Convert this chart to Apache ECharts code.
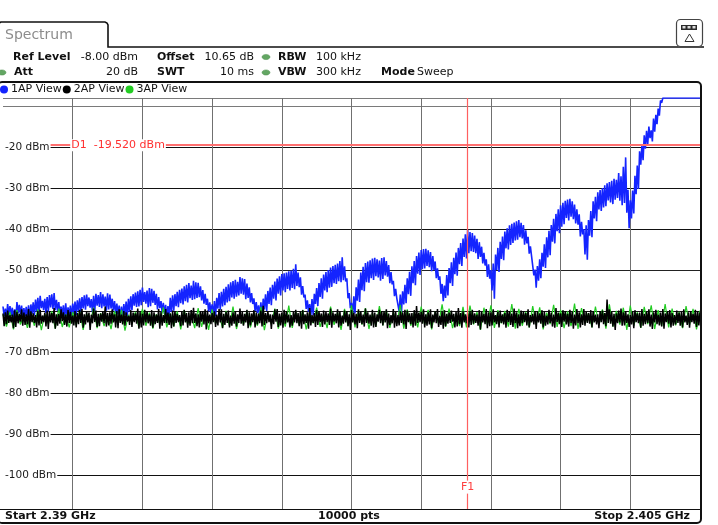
<!DOCTYPE html>
<html>
<head>
<meta charset="utf-8">
<script src="https://cdn.jsdelivr.net/npm/echarts@6/dist/echarts.min.js"></script>
<style>
html,body{margin:0;padding:0;background:#fff;}
#chart{width:718px;height:525px;}
</style>
</head>
<body>
<div id="chart"></div>
<script>
// Sweep settings
const START_MHZ = 2390;
const STOP_MHZ = 2405;
const SWEEP_POINTS = 10000;
const REF_LEVEL = -8;          // dBm, top of the diagram
const BOTTOM_LEVEL = -110;     // dBm, lower end of the value axis
const DIV_DB = 10;
const DIV_MHZ = 1.5;

// Display line and frequency line
const D1_LEVEL = -19.52;
const F1_MHZ = 2400;

// Level labels printed inside the diagram
const LEVEL_TICKS = [-20, -30, -40, -50, -70, -80, -90, -100];

// Trace 1 (1AP View), dBm, one sample every 0.025 MHz from start
// (samples alternate between the upper and lower edge of the detector band)
const TRACE1_STEP = 0.025;
const trace1 = [
-58.9,-61.3,-59.4,-61.6,-58.3,-60.9,-58.8,-61.2,-59.2,-62.1,-59.6,-61.9,-57.8,-60.6,-58.5,-60.8,-58.7,-61.5,-59.3,-61.4,
-59.0,-61.8,-58.6,-62.0,-58.4,-60.7,-57.9,-61.1,-57.2,-60.1,-56.8,-60.4,-56.3,-59.3,-57.5,-59.8,-57.0,-60.5,-56.6,-60.2,
-56.1,-59.1,-55.9,-59.5,-55.6,-59.8,-57.3,-60.0,-57.8,-60.6,-58.9,-60.9,-58.6,-61.7,-58.1,-61.5,-59.1,-61.2,-58.7,-61.8,
-58.2,-60.7,-57.7,-61.0,-57.4,-60.0,-56.9,-60.3,-56.6,-59.4,-56.2,-59.7,-56.0,-58.8,-56.7,-59.2,-57.1,-60.3,-56.3,-60.0,
-55.8,-58.7,-56.1,-59.0,-55.4,-59.3,-55.9,-58.9,-56.5,-59.9,-55.7,-59.6,-56.0,-59.4,-57.0,-59.9,-57.6,-60.5,-58.2,-60.8,
-58.7,-61.9,-58.9,-61.6,-58.3,-61.0,-57.7,-61.2,-57.0,-60.2,-56.4,-59.8,-55.9,-58.7,-55.5,-59.0,-55.2,-58.9,-54.8,-58.6,
-54.3,-57.8,-55.4,-58.2,-55.0,-59.1,-54.4,-58.8,-54.6,-58.0,-55.1,-58.5,-55.8,-59.6,-56.6,-59.3,-57.6,-60.3,-58.0,-60.7,
-58.5,-61.7,-58.8,-61.4,-56.8,-60.2,-56.2,-59.9,-55.9,-58.8,-55.3,-59.1,-54.8,-58.1,-54.5,-58.4,-54.0,-57.6,-53.6,-57.9,
-53.2,-56.9,-53.8,-57.3,-52.6,-57.1,-53.0,-56.8,-53.1,-56.6,-54.0,-57.4,-54.9,-58.2,-55.8,-58.5,-57.0,-60.1,-57.9,-60.6,
-58.4,-61.0,-57.6,-61.3,-56.8,-59.4,-55.6,-59.7,-55.3,-58.9,-54.6,-58.6,-54.1,-57.9,-53.5,-57.6,-53.0,-56.7,-52.7,-57.0,
-52.4,-56.5,-52.9,-56.2,-51.7,-55.8,-52.0,-56.0,-52.2,-57.1,-53.3,-56.8,-54.2,-57.9,-55.6,-58.3,-56.9,-60.0,-57.8,-60.5,
-58.6,-61.2,-57.9,-61.5,-57.0,-59.6,-55.9,-60.0,-55.1,-58.3,-54.3,-58.6,-53.6,-57.0,-52.8,-57.4,-52.1,-55.8,-51.5,-56.2,
-51.0,-55.0,-50.8,-55.4,-50.6,-54.6,-50.3,-55.0,-50.1,-54.4,-49.7,-54.7,-48.6,-53.9,-50.6,-54.2,-51.8,-56.0,-53.9,-56.7,
-56.0,-59.5,-57.4,-60.2,-58.3,-61.1,-57.1,-61.0,-55.8,-58.3,-54.4,-58.8,-53.2,-56.6,-52.0,-57.0,-51.1,-55.0,-50.5,-55.4,
-50.0,-54.3,-49.4,-54.1,-49.0,-53.2,-48.7,-53.4,-48.4,-52.7,-47.8,-53.0,-46.9,-52.5,-49.1,-52.8,-52.0,-56.9,-55.6,-59.3,
-58.0,-60.9,-56.4,-60.6,-54.2,-57.5,-52.3,-57.8,-50.6,-54.9,-49.2,-55.2,-48.3,-53.0,-47.9,-53.1,-47.6,-52.0,-47.2,-52.4,
-47.0,-51.5,-47.4,-51.8,-47.7,-52.6,-47.1,-52.2,-46.9,-51.3,-47.8,-51.6,-48.8,-53.2,-50.5,-53.5,-52.6,-56.4,-54.6,-56.9,
-56.8,-60.1,-56.0,-60.4,-55.2,-58.4,-53.6,-58.1,-52.0,-55.9,-50.4,-56.3,-49.1,-53.2,-47.8,-53.7,-46.6,-50.9,-45.7,-51.2,
-45.1,-49.8,-44.9,-49.6,-44.8,-49.0,-45.2,-49.3,-45.6,-50.3,-46.6,-50.0,-47.9,-52.0,-49.6,-52.4,-51.5,-55.8,-53.4,-57.6,
-53.8,-56.8,-51.2,-56.2,-49.5,-53.2,-48.1,-53.9,-47.0,-51.0,-45.7,-51.4,-44.6,-48.6,-43.4,-49.0,-42.3,-46.8,-41.3,-47.2,
-40.2,-45.9,-40.7,-45.4,-41.0,-45.6,-41.6,-45.9,-42.4,-47.3,-43.2,-46.8,-44.3,-48.4,-45.8,-48.9,-47.4,-51.7,-48.6,-52.1,
-50.0,-55.0,-48.4,-57.0,-46.2,-50.0,-44.6,-50.5,-43.1,-47.3,-41.8,-47.6,-40.6,-44.7,-39.8,-45.0,-39.1,-43.9,-38.7,-43.4,
-38.4,-42.8,-38.1,-42.6,-37.8,-42.0,-38.5,-42.3,-39.0,-43.8,-40.3,-43.5,-41.9,-46.0,-44.2,-46.6,-46.8,-51.3,-49.9,-54.3,
-49.0,-52.6,-47.4,-52.0,-45.8,-49.2,-43.7,-49.5,-42.0,-46.9,-40.4,-46.4,-39.0,-43.1,-37.5,-43.5,-36.3,-40.5,-35.2,-41.0,
-34.2,-39.4,-33.6,-38.8,-33.1,-37.3,-32.8,-37.9,-32.6,-37.0,-33.2,-37.6,-34.0,-38.6,-35.2,-38.9,-36.4,-41.8,-38.2,-41.3,
-40.0,-46.2,-39.1,-47.5,-37.8,-41.6,-35.6,-42.0,-33.2,-37.4,-32.1,-38.1,-31.0,-35.2,-30.5,-35.6,-30.0,-34.7,-29.3,-34.4,
-28.8,-33.0,-28.5,-33.5,-28.2,-33.9,-27.7,-32.8,-28.0,-32.4,-26.3,-33.1,-27.1,-34.2,-24.8,-33.6,-22.5,-36.0,-30.4,-39.8,
-33.0,-37.4,-30.6,-36.2,-27.0,-31.5,-24.5,-30.2,-21.0,-24.3,-19.6,-23.2,-17.1,-20.4,-16.0,-19.3,-15.0,-17.8,-15.9,-18.6,
-13.0,-16.2,-12.1,-14.4,-10.6,-12.3,-8.6,-9.2,-8.0,-8.0,-8.0,-8.0,-8.0,-8.0,-8.0,-8.0,-8.0,-8.0,-8.0,-8.0,
-8.0,-8.0,-8.0,-8.0,-8.0,-8.0,-8.0,-8.0,-8.0,-8.0,-8.0,-8.0,-8.0,-8.0,-8.0,-8.0,-8.0,-8.0,-8.0,-8.0,
-8.0
];

// Trace 2 (2AP View), dBm, one sample every 0.025 MHz from start
const TRACE2_STEP = 0.025;
const trace2 = [
-60.6,-63.7,-60.3,-63.2,-59.9,-62.9,-61.0,-62.8,-60.9,-64.2,-59.8,-63.9,-60.2,-63.0,-60.7,-62.6,-59.6,-63.6,-60.4,-63.4,
-60.8,-63.3,-59.5,-64.1,-60.1,-62.7,-60.6,-62.9,-61.0,-64.0,-60.0,-63.5,-59.7,-63.1,-61.1,-62.7,-60.4,-63.8,-59.9,-64.4,
-60.0,-62.8,-60.5,-63.0,-59.3,-64.3,-60.8,-63.6,-60.7,-63.1,-59.6,-62.5,-60.3,-63.4,-60.9,-63.8,-59.8,-62.9,-60.2,-63.1,
-61.1,-63.5,-60.0,-64.0,-60.5,-63.2,-59.7,-62.9,-59.5,-64.1,-60.8,-63.3,-60.2,-62.8,-60.4,-64.6,-60.9,-63.0,-59.4,-62.7,
-59.9,-63.9,-60.7,-63.7,-60.6,-62.6,-60.1,-63.0,-58.9,-63.8,-60.5,-63.5,-60.3,-63.1,-59.6,-62.8,-60.8,-64.0,-60.0,-64.2,
-59.6,-62.9,-60.9,-63.3,-60.0,-63.6,-60.3,-62.6,-61.2,-63.4,-59.8,-63.9,-60.4,-62.7,-60.6,-63.1,-59.4,-64.3,-60.2,-64.0,
-60.7,-63.5,-59.7,-62.8,-60.1,-63.0,-60.8,-63.6,-59.8,-64.1,-60.3,-63.2,-60.9,-62.9,-59.5,-64.3,-60.2,-63.6,-61.0,-62.9,
-59.5,-63.0,-60.4,-63.4,-60.6,-64.2,-59.9,-63.8,-60.0,-62.9,-60.7,-62.7,-61.0,-63.7,-60.1,-63.5,-59.7,-62.8,-60.5,-64.1,
-60.3,-63.6,-59.8,-63.0,-59.2,-62.9,-60.6,-63.7,-60.8,-64.0,-60.0,-62.6,-60.1,-63.3,-59.6,-64.5,-59.9,-63.0,-60.9,-63.2,
-60.5,-62.7,-60.1,-63.9,-60.9,-63.5,-59.5,-62.8,-59.6,-64.2,-60.7,-63.4,-60.2,-62.9,-59.9,-64.0,-61.1,-63.6,-60.3,-63.1,
-60.0,-63.8,-60.8,-62.9,-59.4,-63.1,-60.2,-63.6,-60.7,-62.8,-59.7,-64.2,-60.3,-63.5,-60.6,-62.7,-59.8,-64.0,-60.4,-63.3,
-60.6,-63.0,-59.9,-63.8,-58.7,-63.4,-60.5,-63.0,-60.1,-62.7,-60.8,-64.4,-60.9,-63.2,-59.6,-62.6,-59.5,-63.9,-60.6,-63.5,
-60.4,-64.1,-59.7,-63.1,-60.0,-62.8,-60.9,-64.0,-61.0,-63.6,-60.2,-62.8,-59.7,-63.0,-60.5,-63.7,-60.2,-64.3,-59.8,-63.2,
-60.8,-62.9,-60.3,-64.3,-59.3,-63.5,-61.0,-62.9,-60.5,-63.9,-59.8,-63.4,-60.1,-62.7,-60.6,-63.9,-59.9,-63.3,-60.2,-62.7,
-60.6,-63.4,-59.4,-64.1,-60.3,-62.6,-60.7,-63.0,-59.6,-64.0,-60.1,-63.6,-61.1,-63.1,-59.9,-62.8,-60.0,-63.7,-60.8,-64.6,
-59.8,-62.8,-60.4,-63.3,-60.7,-64.2,-59.6,-62.9,-60.2,-63.2,-60.9,-63.8,-59.4,-62.9,-60.3,-63.1,-60.9,-63.6,-59.7,-64.0,
-60.4,-63.9,-60.8,-62.6,-59.7,-63.0,-60.0,-63.5,-60.1,-62.8,-59.6,-64.2,-60.6,-63.4,-61.0,-63.0,-59.5,-64.1,-60.2,-63.7,
-61.0,-63.5,-60.1,-62.9,-60.3,-63.3,-59.7,-64.4,-59.9,-62.7,-60.6,-63.2,-60.5,-64.0,-59.8,-63.6,-58.8,-62.9,-60.4,-62.7,
-60.2,-63.1,-59.6,-64.0,-60.8,-63.6,-60.3,-63.3,-59.6,-64.2,-60.9,-62.8,-60.0,-63.0,-59.5,-63.9,-61.2,-63.4,-60.1,-64.3,
-59.8,-63.7,-60.7,-63.1,-60.4,-62.9,-59.9,-62.6,-60.7,-64.0,-60.2,-63.8,-59.3,-63.2,-60.5,-64.1,-60.1,-62.8,-60.8,-63.0,
-60.6,-64.0,-60.0,-63.4,-59.7,-63.1,-60.6,-62.9,-60.9,-63.6,-59.8,-64.5,-60.2,-62.8,-60.7,-63.2,-59.5,-64.2,-60.3,-63.7,
-60.3,-63.5,-59.6,-62.8,-61.0,-63.2,-60.2,-64.0,-59.9,-62.9,-60.8,-63.3,-60.5,-64.1,-59.7,-62.7,-60.0,-63.4,-60.6,-63.9,
-59.4,-63.0,-60.3,-64.2,-60.8,-63.7,-59.9,-63.0,-60.1,-62.7,-60.5,-63.5,-59.6,-64.0,-61.0,-62.8,-60.7,-63.3,-60.0,-64.4,
-60.2,-62.8,-60.6,-63.1,-59.8,-64.0,-60.1,-63.6,-61.1,-63.3,-59.7,-62.9,-60.4,-63.8,-60.9,-64.1,-59.3,-62.7,-60.4,-63.2,
-60.6,-63.9,-59.8,-62.6,-60.0,-63.3,-60.7,-63.8,-59.7,-62.9,-60.2,-64.3,-60.9,-63.5,-59.5,-63.0,-60.3,-64.0,-60.8,-63.4,
-59.5,-63.6,-60.2,-62.9,-60.5,-63.1,-59.8,-64.0,-60.1,-62.8,-60.9,-63.3,-60.8,-64.2,-60.0,-62.7,-59.9,-63.2,-60.5,-63.7,
-57.2,-62.9,-59.6,-63.1,-60.2,-63.8,-60.7,-64.6,-60.6,-63.0,-59.9,-62.8,-59.4,-63.6,-60.3,-63.5,-60.0,-62.9,-60.8,-63.9,
-61.0,-63.3,-60.1,-64.2,-59.8,-62.7,-60.6,-63.0,-60.4,-64.1,-59.5,-63.6,-60.7,-63.2,-60.2,-62.9,-59.6,-63.8,-60.9,-64.4,
-60.3,-62.8,-59.7,-63.2,-60.9,-63.5,-60.4,-63.8,-59.5,-64.3,-60.6,-62.7,-60.1,-63.1,-59.8,-64.0,-60.5,-63.6,-61.0,-63.3,
-59.9,-62.9,-60.4,-63.6,-60.2,-64.0,-59.6,-62.8,-61.1,-63.4,-60.3,-64.1,-60.0,-62.7,-60.7,-63.1,-59.7,-63.9,-60.1,-63.5,
-60.4
];

// Trace 3 (3AP View), dBm, one sample every 0.075 MHz from start
const TRACE3_STEP = 0.075;
const trace3 = [
-60.9,-63.8,-60.2,-64.5,-59.8,-63.3,-61.0,-64.1,-60.4,-63.6,
-59.6,-64.7,-60.7,-63.2,-60.1,-64.3,-59.4,-63.9,-60.8,-64.0,
-60.3,-63.5,-59.9,-64.6,-60.6,-63.1,-59.2,-64.2,-60.5,-63.7,
-61.1,-64.4,-60.0,-63.4,-59.7,-64.8,-60.9,-63.0,-60.2,-64.1,
-59.5,-63.6,-60.4,-64.3,-60.8,-63.2,-59.1,-64.0,-60.6,-63.8,
-60.1,-64.5,-59.8,-63.3,-60.7,-64.2,-59.3,-63.9,-60.3,-64.6,
-59.6,-63.1,-60.9,-64.1,-60.0,-63.7,-58.9,-64.4,-60.5,-63.4,
-59.9,-64.0,-60.2,-63.6,-59.0,-64.7,-60.6,-63.2,-59.4,-64.3,
-60.8,-63.8,-58.7,-64.1,-60.1,-63.5,-59.7,-64.5,-60.4,-63.0,
-59.2,-63.9,-60.7,-64.2,-58.9,-63.4,-60.3,-64.6,-59.5,-63.7,
-58.6,-64.0,-60.0,-63.3,-59.3,-64.4,-60.5,-63.8,-58.8,-63.5,
-59.9,-64.1,-60.2,-63.1,-58.5,-64.3,-59.6,-63.6,-60.4,-64.0,
-58.9,-63.4,-59.7,-64.5,-60.1,-63.2,-58.4,-63.9,-59.4,-64.2,
-60.6,-63.7,-59.0,-64.0,-58.7,-63.3,-60.3,-64.6,-59.2,-63.5,
-58.6,-64.1,-59.8,-63.0,-60.0,-63.8,-58.3,-64.3,-59.5,-63.6,
-60.2,-64.0,-58.8,-63.4,-59.1,-64.5,-60.4,-63.2,-58.5,-63.9,
-59.7,-64.2,-60.1,-63.7,-58.2,-64.4,-59.3,-63.1,-60.5,-64.0,
-58.9,-63.5,-59.6,-64.3,-58.4,-63.8,-60.0,-63.3,-59.2,-64.6,
-58.7,-63.6,-60.3,-64.1,-59.0,-63.2,-58.6,-64.4,-59.8,-63.7,
-58.3,-64.0,-59.4,-63.5,-60.2,-64.2,-58.8,-63.4,-59.5,-64.5,
-59.9
];

const FONT = '"DejaVu Sans", Verdana, sans-serif';
const SPAN = STOP_MHZ - START_MHZ;

// samples are placed on the frequency offset from the start frequency
const toPoints = (vals, step) => vals.map((v, i) => [Math.round(i * step * 10000) / 10000, v]);

function fmtGHz(mhz) { return (mhz / 1000).toString() + ' GHz'; }

const chart = echarts.init(document.getElementById('chart'), null, { renderer: 'canvas' });

const txt = (text, x, y, opts = {}) => ({
  type: 'text', z: 120,
  style: {
    text, x, y,
    font: (opts.bold ? 'bold ' : '') + (opts.size || 11) + 'px ' + FONT,
    fill: opts.color || '#111',
    textAlign: opts.align || 'left', align: opts.align || 'left',
    textVerticalAlign: 'middle', verticalAlign: 'middle'
  }
});
const dot = (cx, cy) => ({
  type: 'ellipse', z: 120,
  shape: { cx, cy, rx: 4, ry: 2.6 },
  style: { fill: '#63a663', stroke: '#4d8f4d', lineWidth: 0.5 }
});

const traceLine = (color, width) => ({ width, color, join: 'bevel', cap: 'butt' });

const BLUE = '#1424ff', BLACK = '#000', GREEN = '#22cc22';

const option = {
  animation: false,
  backgroundColor: '#fff',
  textStyle: { fontFamily: FONT },
  legend: {
    data: ['1AP View', '2AP View', '3AP View'],
    left: 0, top: 84, padding: 0, itemGap: 1,
    icon: 'circle', itemWidth: 8, itemHeight: 8,
    textStyle: { fontFamily: FONT, fontSize: 11, color: '#111', padding: [0, 0, 0, -2] },
    selectedMode: false
  },
  grid: { left: 0, right: 18, top: 98, bottom: 9.2, containLabel: false },
  xAxis: {
    type: 'value', min: 0, max: SPAN, interval: DIV_MHZ,
    axisLine: { show: false }, axisTick: { show: false }, axisLabel: { show: false },
    splitLine: { show: true, showMinLine: false, lineStyle: { color: '#707070', width: 1 } }
  },
  yAxis: [
    {
      type: 'value', min: BOTTOM_LEVEL, max: REF_LEVEL, interval: DIV_DB,
      axisLine: { show: false }, axisTick: { show: false }, axisLabel: { show: false },
      splitLine: {
        show: true,
        lineStyle: {
          width: 1,
          color: ['#111', '#111', '#111', '#111', '#111', '#111', '#222', '#111', '#111', '#111', '#7a7a7a', '#7a7a7a']
        }
      }
    },
    {
      type: 'value', min: BOTTOM_LEVEL, max: REF_LEVEL, position: 'left', z: 10,
      axisLine: { show: false }, axisTick: { show: false }, splitLine: { show: false },
      axisLabel: {
        inside: true, margin: 0, customValues: LEVEL_TICKS,
        formatter: v => v + ' dBm',
        fontFamily: FONT, fontSize: 10.5, color: '#1a1a1a',
        backgroundColor: '#fff', padding: [1, 1, 0, 2]
      }
    }
  ],
  series: [
    {
      name: '1AP View', type: 'line', z: 2, symbol: 'none', clip: true,
      data: toPoints(trace1, TRACE1_STEP),
      color: BLUE, lineStyle: traceLine(BLUE, 1.6)
    },
    {
      name: '3AP View', type: 'line', z: 3, symbol: 'none', clip: true,
      data: toPoints(trace3, TRACE3_STEP),
      color: GREEN, lineStyle: traceLine(GREEN, 1.2)
    },
    {
      name: '2AP View', type: 'line', z: 4, symbol: 'none', clip: true,
      data: toPoints(trace2, TRACE2_STEP),
      color: BLACK, lineStyle: traceLine(BLACK, 1.5)
    },
    {
      name: 'markers', type: 'line', z: 10, data: [],
      markLine: {
        silent: true, symbol: ['none', 'none'], animation: false, z: 10,
        label: { show: false },
        data: [
          { yAxis: D1_LEVEL, lineStyle: { color: '#ff7070', width: 2, type: 'solid' } },
          { xAxis: F1_MHZ - START_MHZ, lineStyle: { color: '#ff6060', width: 1.2, type: 'solid' } }
        ]
      },
      markPoint: {
        silent: true, symbol: 'rect', symbolSize: 1, animation: false, z: 11,
        itemStyle: { color: 'rgba(0,0,0,0)' },
        data: [
          {
            coord: [DIV_MHZ, D1_LEVEL],
            label: {
              show: true, position: 'right', distance: 0, offset: [-3, 0],
              formatter: 'D1  ' + D1_LEVEL.toFixed(3) + ' dBm',
              fontFamily: FONT, fontSize: 11, color: '#ff3030',
              backgroundColor: '#fff', padding: [1, 1, 0, 1]
            }
          },
          {
            coord: [F1_MHZ - START_MHZ, -103],
            label: {
              show: true, position: 'inside',
              formatter: 'F1',
              fontFamily: FONT, fontSize: 11, color: '#ff4040',
              backgroundColor: '#fff', padding: [1, 0, 1, 0]
            }
          }
        ]
      }
    }
  ],
  graphic: [
    // tab
    {
      type: 'polyline', z: 110,
      shape: { points: [[-2, 47], [-2, 25], [-1, 23], [1, 22], [105, 22], [107, 23], [108, 25], [108, 47], [704, 47]] },
      style: { fill: null, stroke: '#111', lineWidth: 1.6 }
    },
    txt('Spectrum', 5, 35, { size: 14, color: '#8c8c8c' }),
    // icon, top right
    {
      type: 'rect', z: 110,
      shape: { x: 676.5, y: 19.5, width: 26, height: 27, r: 4 },
      style: { fill: '#fff', stroke: '#444', lineWidth: 1.2 }
    },
    { type: 'rect', z: 111, shape: { x: 681, y: 25, width: 16, height: 5 }, style: { fill: '#2a2a2a' } },
    { type: 'rect', z: 112, shape: { x: 682.5, y: 26, width: 3, height: 2.5 }, style: { fill: '#ddd' } },
    { type: 'rect', z: 112, shape: { x: 687.5, y: 26, width: 3, height: 2.5 }, style: { fill: '#ddd' } },
    { type: 'rect', z: 112, shape: { x: 692.5, y: 26, width: 3, height: 2.5 }, style: { fill: '#ddd' } },
    {
      type: 'polygon', z: 111,
      shape: { points: [[689.5, 34], [685, 41.5], [694, 41.5]] },
      style: { fill: null, stroke: '#333', lineWidth: 1 }
    },
    // setting rows
    txt('Ref Level', 13, 57, { bold: true }),
    txt('-8.00 dBm', 138, 57, { align: 'right' }),
    txt('Offset', 157, 57, { bold: true }),
    txt('10.65 dB', 254, 57, { align: 'right' }),
    dot(266, 57),
    txt('RBW', 278, 57, { bold: true }),
    txt('100 kHz', 316, 57),
    dot(2, 72.5),
    txt('Att', 14, 72.5, { bold: true }),
    txt('20 dB', 138, 72.5, { align: 'right' }),
    txt('SWT', 157, 72.5, { bold: true }),
    txt('10 ms', 254, 72.5, { align: 'right' }),
    dot(266, 72.5),
    txt('VBW', 278, 72.5, { bold: true }),
    txt('300 kHz', 316, 72.5),
    txt('Mode', 381, 72.5, { bold: true }),
    txt('Sweep', 417, 72.5),
    // bottom bar
    {
      type: 'rect', z: 105,
      shape: { x: -2, y: 509, width: 703, height: 14 },
      style: { fill: '#fff' }
    },
    {
      type: 'line', z: 106,
      shape: { x1: -2, y1: 509.5, x2: 701, y2: 509.5 },
      style: { stroke: '#111', lineWidth: 1.2 }
    },
    txt('Start ' + fmtGHz(START_MHZ), 5, 516.5, { bold: true }),
    txt(SWEEP_POINTS + ' pts', 349, 516.5, { bold: true, align: 'center' }),
    txt('Stop ' + fmtGHz(STOP_MHZ), 690, 516.5, { bold: true, align: 'right' }),
    // diagram frame
    {
      type: 'rect', z: 108,
      shape: { x: -2, y: 82, width: 703, height: 441, r: 4 },
      style: { fill: null, stroke: '#111', lineWidth: 2 }
    }
  ]
};

chart.setOption(option);
</script>
</body>
</html>
